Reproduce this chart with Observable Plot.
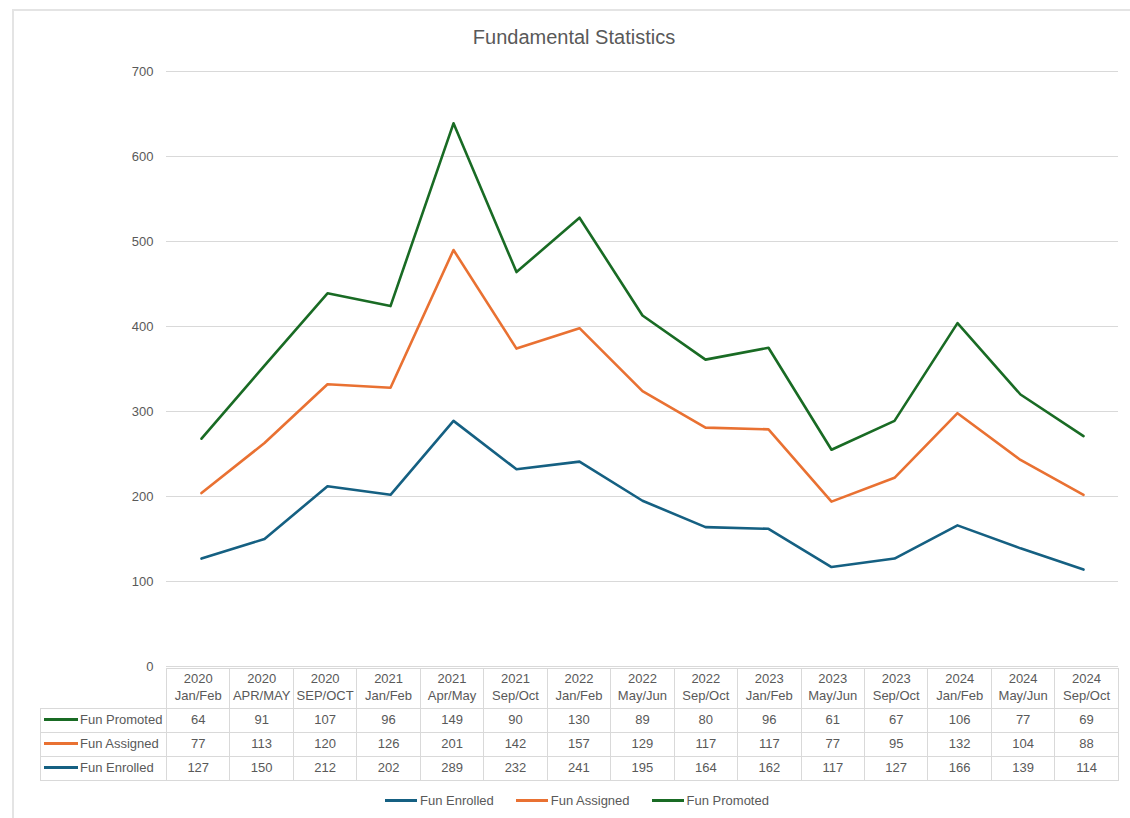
<!DOCTYPE html>
<html>
<head>
<meta charset="utf-8">
<script src="https://cdn.jsdelivr.net/npm/d3@7"></script>
<script src="https://cdn.jsdelivr.net/npm/@observablehq/plot@0.6"></script>
<style>
  html, body { margin: 0; padding: 0; background: #fff; }
  #wrap { position: relative; width: 1130px; height: 818px; overflow: hidden; font-family: "Liberation Sans", Arial, sans-serif; color: #595959; }
  #frame { position: absolute; left: 12px; top: 9px; width: 1130px; height: 820px; border-left: 2px solid #e4e4e4; border-top: 2px solid #e4e4e4; }
  #title { position: absolute; left: 12px; width: 1124px; top: 25px; height: 24px; line-height: 24px; text-align: center; font-size: 20px; color: #595959; }
  #chart { position: absolute; left: 0; top: 50px; }
  #chart svg { overflow: visible; }
  #tbl { position: absolute; left: 40px; top: 668px; border-collapse: collapse; table-layout: fixed; font-size: 13px; color: #595959; }
  #tbl td, #tbl th { border: 1px solid #d9d9d9; text-align: center; padding: 0; font-weight: normal; white-space: nowrap; overflow: hidden; }
  #tbl th { height: 36px; line-height: 17px; padding-bottom: 3px; }
  #tbl td { height: 21px; line-height: 21px; padding-bottom: 2px; }
  #tbl th.blank { border: none; }
  #tbl td.lab { text-align: left; padding-left: 3px; }
  .key { display: inline-block; width: 34px; height: 3px; vertical-align: middle; margin-right: 2px; position: relative; top: -1px; }
  #legend { position: absolute; left: 12px; width: 1130px; top: 790px; height: 20px; display: flex; justify-content: center; align-items: center; font-size: 13px; color: #595959; }
  #legend .item { display: flex; align-items: center; margin: 0 11px; }
  #legend .lkey { display: inline-block; width: 32px; height: 3px; margin-right: 3px; }
</style>
</head>
<body>
<div id="wrap">
  <div id="frame"></div>
  <div id="title">Fundamental Statistics</div>
  <div id="chart"></div>
  <table id="tbl"></table>
  <div id="legend"></div>
</div>
<script>
// ---- data ----
const years = ["2020","2020","2020","2021","2021","2021","2022","2022","2022","2023","2023","2023","2024","2024","2024"];
const periods = ["Jan/Feb","APR/MAY","SEP/OCT","Jan/Feb","Apr/May","Sep/Oct","Jan/Feb","May/Jun","Sep/Oct","Jan/Feb","May/Jun","Sep/Oct","Jan/Feb","May/Jun","Sep/Oct"];
const funEnrolled = [127,150,212,202,289,232,241,195,164,162,117,127,166,139,114];
const funAssigned = [77,113,120,126,201,142,157,129,117,117,77,95,132,104,88];
const funPromoted = [64,91,107,96,149,90,130,89,80,96,61,67,106,77,69];
const seriesNames = ["Fun Enrolled","Fun Assigned","Fun Promoted"];
const seriesColors = ["#156082","#E97132","#196B24"];
const yTicks = [0,100,200,300,400,500,600,700];

// ---- build table for Plot (stacked lines) ----
const labels = years.map((y, i) => y + " " + periods[i]);
const seriesValues = [funEnrolled, funAssigned, funPromoted];
const rows = [];
labels.forEach((lab, i) => {
  let cum = 0;
  seriesNames.forEach((s, k) => {
    cum += seriesValues[k][i];
    rows.push({period: lab, series: s, top: cum});
  });
});

const chart = Plot.plot({
  width: 1130,
  height: 618,
  marginLeft: 166,
  marginRight: 12,
  marginTop: 21,
  marginBottom: 2,
  style: {fontFamily: '"Liberation Sans", Arial, sans-serif', fontSize: "13px", color: "#595959", background: "transparent", overflow: "visible"},
  x: {type: "point", domain: labels, padding: 0.5, axis: null},
  y: {domain: [0, 700], axis: null, label: null},
  color: {domain: seriesNames, range: seriesColors},
  marks: [
    Plot.gridY(yTicks, {stroke: "#d9d9d9", strokeOpacity: 1, strokeWidth: 1}),
    Plot.axisY(yTicks, {tickSize: 0, tickPadding: 13, fontSize: 13, fill: "#595959", label: null}),
    Plot.line(rows, {x: "period", y: "top", z: "series", stroke: "series", strokeWidth: 2.6, strokeLinejoin: "round", strokeLinecap: "round"})
  ]
});
document.getElementById("chart").appendChild(chart);

// ---- data table ----
const tbl = document.getElementById("tbl");
const colW = (1118 - 166) / labels.length;
const cg = document.createElement("colgroup");
const c0 = document.createElement("col"); c0.style.width = "126px"; cg.appendChild(c0);
labels.forEach(() => { const c = document.createElement("col"); c.style.width = colW + "px"; cg.appendChild(c); });
tbl.appendChild(cg);
tbl.style.width = (126 + colW * labels.length) + "px";

const hr = document.createElement("tr");
const blank = document.createElement("th"); blank.className = "blank"; hr.appendChild(blank);
years.forEach((y, i) => {
  const th = document.createElement("th");
  th.innerHTML = y + "<br>" + periods[i];
  hr.appendChild(th);
});
tbl.appendChild(hr);

[2, 1, 0].forEach(k => {
  const tr = document.createElement("tr");
  const td = document.createElement("td"); td.className = "lab";
  const key = document.createElement("span"); key.className = "key"; key.style.background = seriesColors[k];
  td.appendChild(key);
  td.appendChild(document.createTextNode(seriesNames[k]));
  tr.appendChild(td);
  seriesValues[k].forEach(v => {
    const c = document.createElement("td"); c.textContent = v; tr.appendChild(c);
  });
  tbl.appendChild(tr);
});

// ---- legend ----
const leg = document.getElementById("legend");
seriesNames.forEach((s, k) => {
  const it = document.createElement("span"); it.className = "item";
  const kk = document.createElement("span"); kk.className = "lkey"; kk.style.background = seriesColors[k];
  it.appendChild(kk);
  it.appendChild(document.createTextNode(s));
  leg.appendChild(it);
});
</script>
</body>
</html>
